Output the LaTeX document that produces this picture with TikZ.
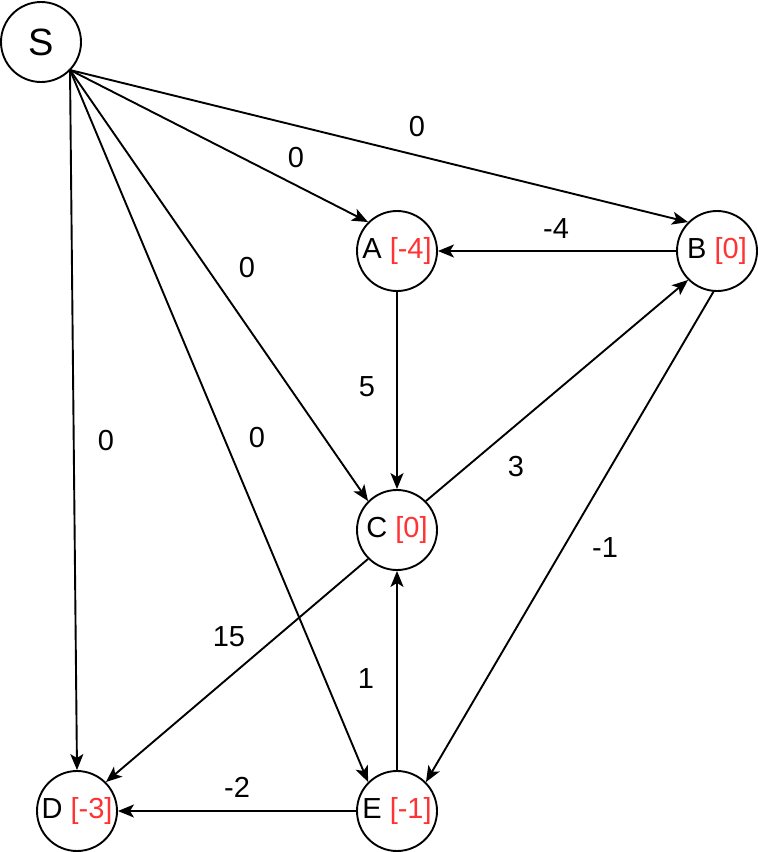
\documentclass[tikz,border=0pt]{standalone}
\usepackage{fontspec}
\setmainfont{Liberation Sans}
\usetikzlibrary{arrows.meta}
\definecolor{valred}{RGB}{255,51,51}
\tikzset{
  vertex/.style={circle,draw,line width=1.9pt,minimum size=80pt,inner sep=0pt,font=\fontsize{29}{31}\selectfont},
  edge/.style={line width=1.9pt,-{Stealth[length=16pt,width=13pt,inset=4pt]}},
  elabel/.style={font=\fontsize{29}{31}\selectfont,inner sep=0pt},
}
\newcommand{\val}[1]{\textcolor{valred}{[#1]}}
\begin{document}
\begin{tikzpicture}[x=1pt,y=-1pt]
\useasboundingbox (0,0) rectangle (758,852);
\node[vertex,font=\fontsize{38}{40}\selectfont] (S) at (41,42) {S};
\node[vertex] (A) at (397,251) {A \val{-4}};
\node[vertex] (B) at (717,251) {B \val{0}};
\node[vertex] (C) at (397,530) {C \val{0}};
\node[vertex] (D) at (77,811) {D \val{-3}};
\node[vertex] (E) at (397,811) {E \val{-1}};
\coordinate (s0) at (70,70);
\draw[edge] (s0) -- (A.135);
\draw[edge] (s0) -- (B.135);
\draw[edge] (s0) -- (C.135);
\draw[edge] (s0) -- (E.135);
\draw[edge] (s0) -- (D.north);
\draw[edge] (B.west) -- (A.east);
\draw[edge] (A.south) -- (C.north);
\draw[edge] (C.45) -- (B.225);
\draw[edge] (B.265) -- (E.45);
\draw[edge] (C.225) -- (D.45);
\draw[edge] (E.north) -- (C.south);
\draw[edge] (E.west) -- (D.east);
\node[elabel] (l1) at (417,127) {0};
\node[elabel] (l2) at (296,158) {0};
\node[elabel] (l3) at (247,268) {0};
\node[elabel] (l4) at (257,438) {0};
\node[elabel] (l5) at (106,441) {0};
\node[elabel] (l6) at (556,229) {-4};
\node[elabel] (l7) at (367,387) {5};
\node[elabel] (l8) at (516,467) {3};
\node[elabel] (l9) at (605,548) {-1};
\node[elabel] (l10) at (229,637) {15};
\node[elabel] (l11) at (366,679) {1};
\node[elabel] (l12) at (237,787) {-2};
\end{tikzpicture}
\end{document}
